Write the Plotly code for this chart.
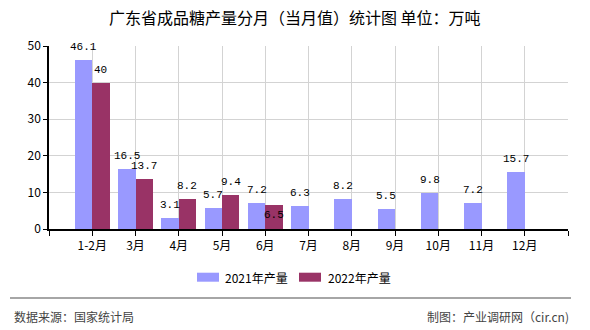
import plotly.graph_objects as go

# ---- data ----
categories = ["1-2月", "3月", "4月", "5月", "6月", "7月", "8月", "9月", "10月", "11月", "12月"]
y2021 = [46.1, 16.5, 3.1, 5.7, 7.2, 6.3, 8.2, 5.5, 9.8, 7.2, 15.7]
y2022 = [40, 13.7, 8.2, 9.4, 6.5]
series_names = ["2021年产量", "2022年产量"]
colors = ["#9999FF", "#993366"]
title_text = "广东省成品糖产量分月（当月值）统计图 单位：万吨"
source_text = "数据来源：国家统计局"
credit_text = "制图：产业调研网（cir.cn)"

W, H = 590, 330
L, R, T, B = 49, 568, 46, 229  # plot area in pixels

def px(x):
    return (x - L) / (R - L)

def py(y):
    return (B - y) / (B - T)

pos = list(range(1, len(categories) + 1))
CJK = "Noto Sans CJK SC"
LBL = "Liberation Mono"

fig = go.Figure()
bw = 0.4
fig.add_trace(go.Bar(x=pos, y=y2021, width=bw, offset=-bw, marker=dict(color=colors[0], line=dict(width=0)),
                     name=series_names[0], showlegend=False, hoverinfo="y"))
fig.add_trace(go.Bar(x=pos[:len(y2022)], y=y2022, width=bw, offset=0, marker=dict(color=colors[1], line=dict(width=0)),
                     name=series_names[1], showlegend=False, hoverinfo="y"))

annotations = []
for p, v in zip(pos, y2021):
    annotations.append(dict(x=p - bw / 2, y=v, xref="x", yref="y", text=f"{v:g}", showarrow=False,
                            yanchor="bottom", yshift=5, font=dict(family=LBL, size=11, color="black")))
for i, (p, v) in enumerate(zip(pos, y2022)):
    below = i == len(y2022) - 1 and v < y2021[i]
    annotations.append(dict(x=p + bw / 2, y=v, xref="x", yref="y", text=f"{v:g}", showarrow=False,
                            yanchor="top" if below else "bottom", yshift=-2 if below else 5,
                            font=dict(family=LBL, size=11, color="black")))

# title
annotations.append(dict(x=(W / 2 - L) / (R - L), xref="paper", y=py(17), yref="paper", text=title_text,
                        showarrow=False, xanchor="center", yanchor="middle",
                        font=dict(family=CJK, size=16, color="black")))

# custom legend
shapes = []
legend_items = [(197, 219, 223), (299, 321, 326)]
for (x0, x1, tx), name, c in zip(legend_items, series_names, colors):
    shapes.append(dict(type="rect", xref="paper", yref="paper", x0=px(x0), x1=px(x1), y0=py(281.7), y1=py(272.7),
                       fillcolor=c, line=dict(width=0)))
    annotations.append(dict(x=px(tx), xref="paper", y=py(277), yref="paper", text=name, showarrow=False,
                            xanchor="left", yanchor="middle", font=dict(family=CJK, size=12, color="black")))

# footer
shapes.append(dict(type="line", xref="paper", yref="paper", x0=px(10), x1=px(571), y0=py(298), y1=py(298),
                   line=dict(color="#888888", width=1.5)))
annotations.append(dict(x=px(12), xref="paper", y=py(316), yref="paper", text=source_text, showarrow=False,
                        xanchor="left", yanchor="middle", font=dict(family=CJK, size=12, color="#444444")))
annotations.append(dict(x=px(571), xref="paper", y=py(316), yref="paper", text=credit_text, showarrow=False,
                        xanchor="right", yanchor="middle", font=dict(family=CJK, size=12, color="#444444")))

fig.update_layout(
    width=W, height=H,
    margin=dict(l=L, r=W - R, t=T, b=H - B, pad=0),
    paper_bgcolor="white", plot_bgcolor="white",
    bargap=0, barmode="overlay",
    annotations=annotations, shapes=shapes,
    showlegend=False,
)
fig.update_xaxes(
    type="linear", range=[0, len(categories) + 1],
    tickvals=[0] + pos + [len(categories) + 1],
    ticktext=[""] + categories + [""],
    showgrid=True, gridcolor="#d3d3d3", gridwidth=1,
    showline=True, linecolor="black", linewidth=1.5,
    ticks="outside", ticklen=5, tickcolor="black", tickwidth=1,
    tickfont=dict(family=CJK, size=12, color="black"),
    zeroline=False, fixedrange=True,
)
fig.update_yaxes(
    range=[0, 50], tickvals=[0, 10, 20, 30, 40, 50],
    showgrid=True, gridcolor="#d3d3d3", gridwidth=1,
    showline=True, linecolor="black", linewidth=1.5,
    ticks="outside", ticklen=4, tickcolor="black", tickwidth=1,
    tickfont=dict(family=CJK, size=12, color="black"),
    zeroline=False, fixedrange=True,
)

fig.write_html("out.html", config=dict(displayModeBar=False))
